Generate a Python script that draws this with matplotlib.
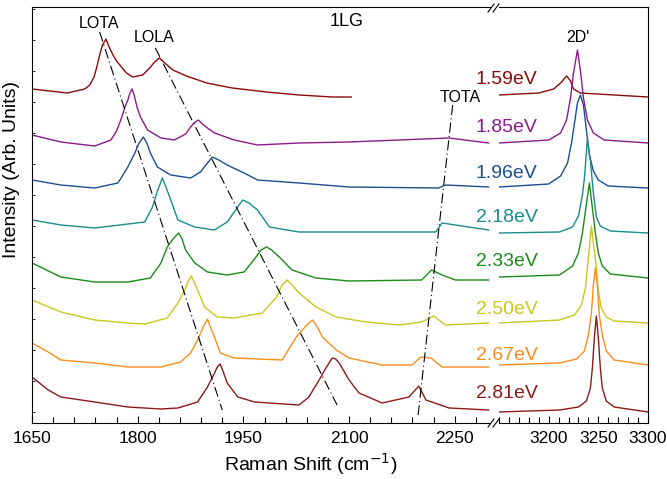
import matplotlib
matplotlib.use("Agg")
import matplotlib.pyplot as plt
from matplotlib.lines import Line2D
from matplotlib.ticker import MultipleLocator, FixedLocator

plt.rcParams['font.family'] = ['Liberation Sans', 'DejaVu Sans']

# excitation energies and their colours
energies = ['1.59eV', '1.85eV', '1.96eV', '2.18eV', '2.33eV', '2.50eV', '2.67eV', '2.81eV']
colors = ['#8b0a0a', '#8b1a8b', '#1b4f8f', '#1a8c8c', '#1a8c1a', '#c8c81e', '#ff8c1a', '#8b1a1a']
label_y = [344, 295, 250, 206, 161, 113, 68, 30]

# spectra (shift in cm-1, intensity in arb. units incl. offset)
# low window 1650-2300
lo_x_159 = [1650, 1700, 1725, 1732, 1738, 1742, 1746, 1750, 1755, 1760, 1765, 1770, 1784, 1793, 1807, 1817, 1824, 1831, 1840, 1850, 1869, 1898, 1934, 1983, 2029, 2076, 2103]
lo_y_159 = [334, 330, 334, 338, 346, 356, 368, 378, 384, 375, 368, 362, 350, 346, 348, 355, 361, 365, 359, 353, 347, 340, 335, 331, 328, 326, 326]
lo_x_185 = [1650, 1691, 1739, 1762, 1770, 1776, 1782, 1786, 1789, 1792, 1795, 1799, 1804, 1814, 1833, 1852, 1868, 1875, 1880, 1886, 1892, 1899, 1909, 1937, 1970, 2029, 2100, 2171, 2242, 2298]
lo_y_185 = [288, 281, 277, 283, 292, 303, 316, 323, 330, 334, 328, 316, 306, 293, 285, 283, 289, 296, 300, 303, 299, 295, 290, 283, 278, 280, 281, 283, 285, 280]
lo_x_196 = [1650, 1691, 1739, 1772, 1786, 1791, 1796, 1802, 1808, 1813, 1818, 1828, 1847, 1875, 1889, 1898, 1906, 1915, 1927, 1951, 1970, 2029, 2100, 2227, 2237, 2298]
lo_y_196 = [243, 238, 235, 240, 256, 263, 270, 280, 286, 280, 270, 256, 248, 245, 251, 259, 266, 263, 258, 250, 243, 240, 236, 235, 238, 236]
lo_x_218 = [1650, 1691, 1739, 1810, 1821, 1828, 1835, 1840, 1847, 1857, 1881, 1909, 1927, 1942, 1949, 1958, 1970, 1987, 2029, 2171, 2223, 2232, 2298]
lo_y_218 = [203, 198, 195, 201, 216, 232, 245, 236, 223, 203, 196, 193, 201, 216, 223, 220, 213, 196, 191, 191, 191, 200, 193]
lo_x_233 = [1650, 1691, 1739, 1786, 1818, 1833, 1842, 1850, 1858, 1863, 1868, 1881, 1899, 1927, 1951, 1968, 1975, 1983, 1990, 2001, 2019, 2053, 2100, 2203, 2217, 2232, 2251, 2298]
lo_y_233 = [160, 146, 141, 141, 145, 160, 176, 184, 190, 184, 173, 160, 151, 148, 151, 166, 173, 176, 173, 166, 153, 145, 142, 143, 153, 148, 143, 143]
lo_x_250 = [1650, 1691, 1739, 1786, 1810, 1842, 1857, 1867, 1871, 1876, 1880, 1885, 1895, 1913, 1937, 1977, 1997, 2005, 2012, 2019, 2029, 2053, 2082, 2124, 2171, 2203, 2220, 2237, 2298]
lo_y_250 = [123, 111, 103, 100, 99, 105, 120, 133, 141, 147, 141, 133, 116, 106, 105, 110, 126, 138, 143, 138, 130, 116, 106, 101, 98, 101, 107, 98, 100]
lo_x_267 = [1650, 1673, 1691, 1739, 1786, 1833, 1861, 1875, 1885, 1893, 1899, 1903, 1909, 1917, 1937, 2005, 2025, 2040, 2048, 2055, 2062, 2082, 2100, 2147, 2189, 2202, 2216, 2232, 2298]
lo_y_267 = [80, 71, 63, 60, 56, 56, 61, 70, 83, 96, 104, 96, 86, 70, 65, 63, 86, 98, 103, 96, 86, 73, 65, 58, 58, 66, 65, 56, 56]
lo_x_281 = [1650, 1673, 1691, 1739, 1786, 1833, 1857, 1885, 1899, 1909, 1913, 1917, 1921, 1927, 1942, 1966, 2029, 2043, 2060, 2068, 2076, 2081, 2086, 2100, 2114, 2147, 2185, 2199, 2209, 2242, 2298]
lo_y_281 = [46, 33, 26, 21, 16, 14, 15, 21, 36, 50, 56, 59, 52, 40, 26, 21, 18, 26, 46, 56, 65, 64, 60, 43, 30, 20, 26, 37, 23, 15, 13]

# high window 3150-3300 (2D')
hi_x_159 = [3150, 3190, 3205, 3212, 3218, 3222, 3225, 3232, 3300]
hi_y_159 = [328, 330, 334, 340, 347, 342, 334, 330, 326]
hi_x_185 = [3150, 3200, 3212, 3218, 3222, 3225, 3229, 3232, 3235, 3239, 3245, 3256, 3300]
hi_y_185 = [280, 283, 290, 303, 325, 350, 373, 352, 325, 303, 290, 283, 280]
hi_x_196 = [3150, 3200, 3212, 3219, 3223, 3226, 3229, 3232, 3235, 3238, 3241, 3245, 3250, 3260, 3300]
hi_y_196 = [236, 239, 247, 260, 280, 300, 320, 328, 318, 293, 268, 252, 243, 237, 235]
hi_x_218 = [3150, 3211, 3224, 3230, 3234, 3236, 3239, 3242, 3245, 3248, 3252, 3262, 3300]
hi_y_218 = [190, 191, 196, 207, 228, 245, 284, 262, 230, 206, 197, 192, 190]
hi_x_233 = [3150, 3211, 3224, 3230, 3234, 3237, 3241, 3244, 3247, 3250, 3254, 3262, 3300]
hi_y_233 = [146, 148, 157, 170, 190, 212, 240, 215, 190, 170, 157, 149, 145]
hi_x_250 = [3150, 3211, 3226, 3233, 3237, 3240, 3243, 3245, 3248, 3250, 3253, 3258, 3266, 3300]
hi_y_250 = [100, 103, 108, 118, 135, 165, 197, 180, 156, 132, 115, 106, 102, 100]
hi_x_267 = [3150, 3211, 3228, 3236, 3240, 3243, 3245, 3247, 3249, 3251, 3254, 3258, 3266, 3300]
hi_y_267 = [58, 60, 64, 72, 88, 110, 138, 155, 138, 108, 88, 72, 63, 58]
hi_x_281 = [3150, 3211, 3230, 3238, 3242, 3244, 3246, 3248, 3250, 3252, 3254, 3258, 3266, 3300]
hi_y_281 = [11, 13, 16, 22, 35, 55, 85, 107, 85, 55, 35, 22, 16, 11]

lo_x = [lo_x_159, lo_x_185, lo_x_196, lo_x_218, lo_x_233, lo_x_250, lo_x_267, lo_x_281]
lo_y = [lo_y_159, lo_y_185, lo_y_196, lo_y_218, lo_y_233, lo_y_250, lo_y_267, lo_y_281]
hi_x = [hi_x_159, hi_x_185, hi_x_196, hi_x_218, hi_x_233, hi_x_250, hi_x_267, hi_x_281]
hi_y = [hi_y_159, hi_y_185, hi_y_196, hi_y_218, hi_y_233, hi_y_250, hi_y_267, hi_y_281]

# dispersion guide lines (start, end) in the low window
guides = {'LOTA': ((1746, 391), (1920, 13)),
          'LOLA': ((1825, 375), (2083, 18)),
          'TOTA': ((2247, 318), (2198, 8))}

W, H = 667, 479
fig = plt.figure(figsize=(W / 100, H / 100), dpi=100)
ax1 = fig.add_axes([32 / W, 1 - 423 / H, 458 / W, 416 / H])
ax2 = fig.add_axes([499 / W, 1 - 423 / H, 149 / W, 416 / H])

for i in range(len(energies)):
    ax1.plot(lo_x[i], lo_y[i], color=colors[i], lw=1.0)
    ax2.plot(hi_x[i], hi_y[i], color=colors[i], lw=1.0)
    ax2.text(3189, label_y[i], energies[i], color=colors[i], fontsize=14,
             ha='right', va='center', clip_on=False)

for name, (p0, p1) in guides.items():
    ax1.plot([p0[0], p1[0]], [p0[1], p1[1]], color='black', lw=0.8,
             linestyle=(0, (9, 3, 1, 3)))

ax1.text(1745, 400, 'LOTA', fontsize=11.5, ha='center', va='center')
ax1.text(1823, 386, 'LOLA', fontsize=11.5, ha='center', va='center')
ax1.text(2257, 326, 'TOTA', fontsize=11.5, ha='center', va='center')
ax1.text(2096, 401, '1LG', fontsize=13, ha='center', va='center')
ax2.text(3229, 386, "2D'", fontsize=11.5, ha='center', va='center')

ax1.set_xlim(1650, 2300)
ax2.set_xlim(3150, 3300)
for ax in (ax1, ax2):
    ax.set_ylim(0, 416)
    ax.tick_params(axis='x', direction='in', labelsize=12.5, pad=6, length=5, width=0.8)
    ax.tick_params(axis='x', which='minor', direction='in', length=4, width=0.8)
    for s in ax.spines.values():
        s.set_linewidth(0.8)

ax1.xaxis.set_major_locator(FixedLocator([1650, 1800, 1950, 2100, 2250]))
ax1.xaxis.set_minor_locator(MultipleLocator(30))
ax1.yaxis.set_major_locator(FixedLocator(list(range(11, 416, 31))))
ax1.tick_params(axis='y', direction='in', length=2.5, width=0.6, labelleft=False)
ax1.spines['right'].set_visible(False)

ax2.xaxis.set_major_locator(FixedLocator([3200, 3250, 3300]))
ax2.xaxis.set_minor_locator(MultipleLocator(10))
ax2.set_yticks([])
ax2.spines['left'].set_visible(False)

# axis break marks
for py in (8, 423):
    for dx in (0, 5):
        x0, x1 = 488 + dx, 494 + dx
        fig.add_artist(Line2D([x0 / W, x1 / W], [1 - (py + 4) / H, 1 - (py - 4) / H],
                              color='black', lw=0.8, transform=fig.transFigure))

fig.text(311 / W, 1 - 464 / H, 'Raman Shift (cm$^{-1}$)', fontsize=14, ha='center', va='center')
fig.text(12 / W, 1 - 169 / H, 'Intensity (Arb. Units)', fontsize=14, ha='center', va='center',
         rotation=90)

fig.savefig('out.png', dpi=100)
